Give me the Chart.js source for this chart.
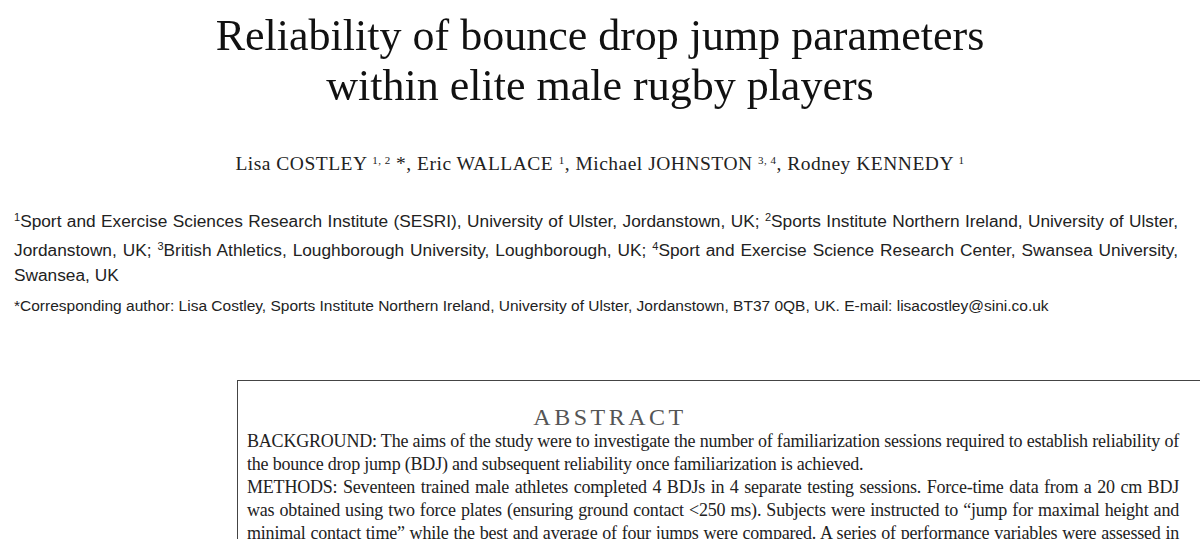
<!DOCTYPE html>
<html><head><meta charset="utf-8">
<script src="https://cdn.jsdelivr.net/npm/chart.js@4"></script>
<style>
body{margin:0;width:1200px;height:539px;overflow:hidden;background:#fff;color:#222}
#titleWrap{position:absolute;left:0;top:0;width:1200px;height:125px}
.serif{font-family:"Liberation Serif","Times New Roman",serif}
.sans{font-family:"Liberation Sans",Arial,sans-serif}
#authors{position:absolute;top:153px;width:1200px;text-align:center;font-size:19.5px;letter-spacing:0.5px}
sup{font-size:11px;vertical-align:6px}
#aff{position:absolute;left:14px;width:1164px;top:205px;font-size:17.3px;line-height:25px;text-align:justify;text-align-last:left}
#corr{position:absolute;left:14px;top:297px;font-size:15.5px}
#box{position:absolute;left:237px;top:380px;width:990px;height:200px;border:1px solid #444;box-sizing:border-box}
#abshead{position:absolute;left:237px;width:746px;top:404px;text-align:center;font-size:24px;letter-spacing:3.5px;color:#555}
#abs{position:absolute;left:247px;width:932px;top:430px;font-size:18px;line-height:23px;text-align:justify;text-align-last:left;letter-spacing:-0.2px}
</style></head><body>
<div id="titleWrap"><canvas id="title"></canvas></div>
<div id="authors" class="serif">Lisa COSTLEY <sup>1, 2</sup> *, Eric WALLACE <sup>1</sup>, Michael JOHNSTON <sup>3, 4</sup>, Rodney KENNEDY <sup>1</sup></div>
<div id="aff" class="sans"><sup>1</sup>Sport and Exercise Sciences Research Institute (SESRI), University of Ulster, Jordanstown, UK; <sup>2</sup>Sports Institute Northern Ireland, University of Ulster, Jordanstown, UK; <sup>3</sup>British Athletics, Loughborough University, Loughborough, UK; <sup>4</sup>Sport and Exercise Science Research Center, Swansea University, Swansea, UK</div>
<div id="corr" class="sans">*Corresponding author: Lisa Costley, Sports Institute Northern Ireland, University of Ulster, Jordanstown, BT37 0QB, UK. E-mail: lisacostley@sini.co.uk</div>
<div id="box"></div>
<div id="abshead" class="serif">ABSTRACT</div>
<div id="abs" class="serif">BACKGROUND: The aims of the study were to investigate the number of familiarization sessions required to establish reliability of the bounce drop jump (BDJ) and subsequent reliability once familiarization is achieved.<br>METHODS: Seventeen trained male athletes completed 4 BDJs in 4 separate testing sessions. Force-time data from a 20 cm BDJ was obtained using two force plates (ensuring ground contact &lt;250 ms). Subjects were instructed to “jump for maximal height and minimal contact time” while the best and average of four jumps were compared. A series of performance variables were assessed in both eccentric and concentric</div>
<script>
const titleLines = ["Reliability of bounce drop jump parameters", "within elite male rugby players"];
new Chart(document.getElementById("title"), {
  type: "bar",
  data: { labels: [], datasets: [] },
  options: {
    responsive: true, maintainAspectRatio: false, animation: false,
    layout: { padding: 0 },
    plugins: {
      legend: { display: false }, tooltip: { enabled: false },
      title: {
        display: true, text: titleLines, color: "#111",
        font: { family: "Liberation Serif", size: 44, weight: "normal", lineHeight: 1.13 },
        padding: { top: 14, bottom: 0 }
      }
    },
    scales: { x: { display: false }, y: { display: false } }
  }
});
</script>
</body></html>
